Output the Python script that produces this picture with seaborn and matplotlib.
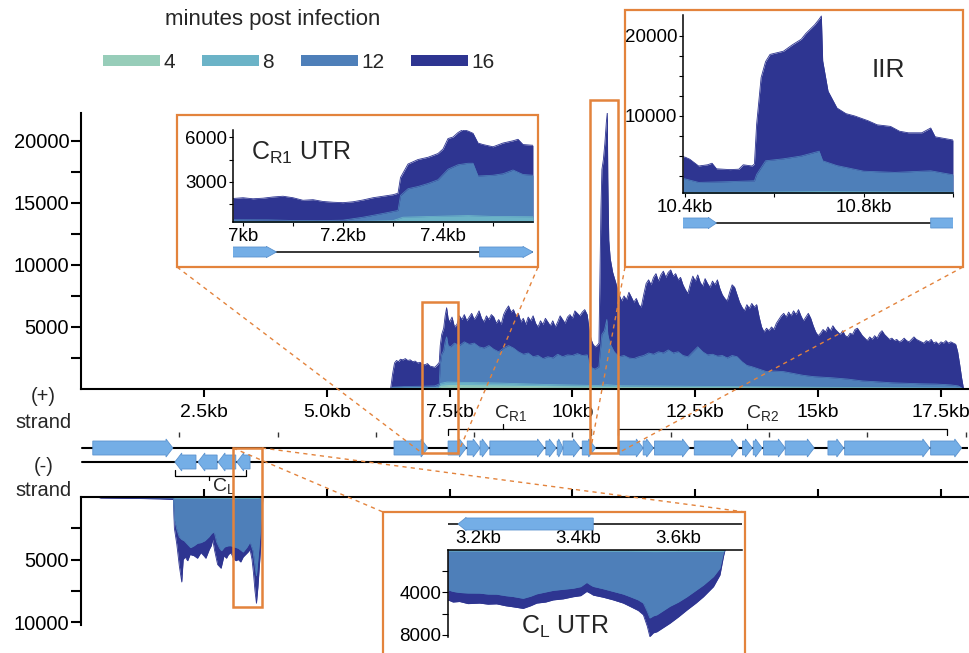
import numpy as np
import pandas as pd
import matplotlib
matplotlib.use('Agg')
import matplotlib.pyplot as plt
import seaborn as sns
from matplotlib.patches import Rectangle, Polygon, Patch
from matplotlib.lines import Line2D

# ---------------- data ----------------
TIMES = ['4', '8', '12', '16']

# (+) strand coverage, whole genome (kb, reads)
plus16_kb = [6.30, 6.34, 6.38, 6.42, 6.46, 6.50, 6.55, 6.60, 6.65, 6.70, 6.75, 6.80, 6.85, 6.90, 6.95,
             7.00, 7.05, 7.10, 7.15, 7.20, 7.25, 7.29, 7.31, 7.34, 7.38, 7.41, 7.44, 7.47, 7.50, 7.55,
             7.60, 7.65, 7.70, 7.75, 7.80, 7.85, 7.90, 7.95, 8.00, 8.05, 8.10, 8.15, 8.20, 8.25, 8.30,
             8.35, 8.40, 8.45, 8.50, 8.55, 8.60, 8.65, 8.70, 8.75, 8.80, 8.85, 8.90, 8.95, 9.00, 9.05,
             9.10, 9.15, 9.20, 9.25, 9.30, 9.35, 9.40, 9.45, 9.50, 9.55, 9.60, 9.65, 9.70, 9.75, 9.80,
             9.85, 9.90, 9.95, 10.00, 10.05, 10.10, 10.15, 10.20, 10.25, 10.30, 10.34, 10.38, 10.42, 10.46, 10.50,
             10.54, 10.56, 10.58, 10.60, 10.63, 10.66, 10.69, 10.71, 10.72, 10.74, 10.77, 10.82, 10.88, 10.95, 11.00,
             11.05, 11.10, 11.15, 11.20, 11.25, 11.30, 11.35, 11.40, 11.45, 11.50, 11.55, 11.60, 11.65, 11.70, 11.75,
             11.80, 11.85, 11.90, 11.95, 12.00, 12.05, 12.10, 12.15, 12.20, 12.25, 12.30, 12.35, 12.40, 12.45, 12.50,
             12.55, 12.60, 12.65, 12.70, 12.75, 12.80, 12.85, 12.90, 12.95, 13.00, 13.05, 13.10, 13.15, 13.20, 13.25,
             13.30, 13.35, 13.40, 13.45, 13.50, 13.55, 13.60, 13.65, 13.70, 13.75, 13.80, 13.85, 13.90, 13.95, 14.00,
             14.05, 14.10, 14.15, 14.20, 14.25, 14.30, 14.35, 14.40, 14.45, 14.50, 14.55, 14.60, 14.65, 14.70, 14.75,
             14.80, 14.85, 14.90, 14.95, 15.00, 15.05, 15.10, 15.15, 15.20, 15.25, 15.30, 15.35, 15.40, 15.45, 15.50,
             15.55, 15.60, 15.65, 15.70, 15.75, 15.80, 15.85, 15.90, 15.95, 16.00, 16.05, 16.10, 16.15, 16.20, 16.25,
             16.30, 16.35, 16.40, 16.45, 16.50, 16.55, 16.60, 16.65, 16.70, 16.75, 16.80, 16.85, 16.90, 16.95, 17.00,
             17.05, 17.10, 17.15, 17.20, 17.25, 17.30, 17.35, 17.40, 17.45, 17.50, 17.55, 17.60, 17.65, 17.70, 17.75,
             17.80, 17.84, 17.88, 17.92, 17.96]
plus16_cov = [0, 1200, 2100, 2300, 2200, 2400, 2350, 2450, 2300, 2350, 2200, 2250, 2100, 2150, 2000,
              1950, 2050, 1850, 1800, 1750, 1950, 2150, 3500, 4400, 4900, 5900, 6550, 5700, 5400, 5800,
              5000, 5200, 5900, 5600, 6000, 5500, 5800, 6100, 5600, 5900, 6300, 5700, 5400, 5900, 5600,
              6000, 5800, 5300, 5600, 5200, 6000, 6400, 6700, 6200, 6400, 5900, 6100, 5400, 5700, 5200,
              5800, 5500, 5900, 5300, 5000, 5500, 5200, 5700, 5400, 5100, 5500, 5000, 5400, 5900, 5600,
              5300, 5800, 6000, 5700, 6300, 6100, 5900, 6200, 6400, 6000, 4800, 4000, 3600, 3400, 3500,
              3700, 9000, 14500, 17700, 18500, 19800, 21500, 22300, 17000, 12000, 10500, 9400, 8600, 7600, 7100,
              7500, 7200, 7800, 7400, 7000, 7300, 6800, 6600, 7600, 8500, 8800, 8400, 9000, 9300, 8700,
              9200, 9500, 9000, 9400, 9600, 9100, 9300, 8800, 9000, 8400, 8000, 7700, 8500, 9100, 8700,
              9200, 8600, 8300, 8900, 8500, 8200, 8700, 8400, 8800, 8100, 7600, 7300, 7100, 7800, 8400,
              8200, 7600, 7000, 6600, 6300, 6800, 6500, 6900, 6600, 6800, 5800, 5000, 4600, 4900, 4700,
              5000, 4800, 5300, 5600, 5900, 6100, 5800, 6200, 5900, 6300, 6000, 6400, 5900, 5500, 5800,
              6100, 5700, 5100, 4600, 4300, 4500, 4800, 4600, 5000, 4700, 5100, 4800, 4600, 4400, 4700,
              4300, 4200, 4500, 4400, 4800, 4900, 4600, 4300, 4100, 3900, 4200, 4000, 4300, 4100, 4500,
              4700, 4400, 4200, 4000, 4100, 3900, 4000, 3800, 3900, 4100, 3900, 3800, 4000, 4200, 4000,
              3900, 3800, 3700, 3900, 3800, 4000, 3700, 3800, 3600, 3800, 3700, 3900, 3700, 3800, 3700,
              3600, 3000, 2000, 900, 0]

plus12_kb = [6.30, 6.34, 6.60, 6.90, 7.20, 7.29, 7.31, 7.34, 7.38, 7.41, 7.44, 7.47, 7.52, 7.60, 7.70,
             7.80, 7.90, 8.00, 8.10, 8.20, 8.30, 8.40, 8.50, 8.60, 8.70, 8.80, 8.90, 9.00, 9.10, 9.20,
             9.30, 9.40, 9.50, 9.60, 9.70, 9.80, 9.90, 10.00, 10.10, 10.20, 10.30, 10.34, 10.40, 10.46, 10.54,
             10.56, 10.60, 10.65, 10.70, 10.72, 10.76, 10.85, 10.95, 11.05, 11.15, 11.25, 11.35, 11.45, 11.55, 11.65,
             11.75, 11.85, 11.95, 12.05, 12.15, 12.25, 12.35, 12.45, 12.55, 12.65, 12.75, 12.85, 12.95, 13.05, 13.15,
             13.25, 13.35, 13.45, 13.55, 13.65, 13.80, 13.95, 14.10, 14.30, 14.50, 14.70, 14.90, 15.10, 15.30, 15.60,
             15.90, 16.20, 16.50, 16.80, 17.10, 17.40, 17.70, 17.85, 17.96]
plus12_cov = [0, 150, 200, 220, 250, 400, 2000, 2800, 3100, 3800, 4200, 3500, 3400, 3700, 3500,
              3800, 3600, 3700, 3400, 3300, 3500, 3200, 3000, 3300, 3500, 3300, 3000, 2800, 2900, 2600,
              2700, 2450, 2600, 2500, 2800, 2600, 2750, 2700, 2850, 2700, 2750, 2000, 1700, 1600, 1800,
              2800, 4400, 4700, 5600, 4400, 3700, 3000, 2600, 2700, 2500, 2450, 2600, 2700, 2900, 2800,
              3000, 2900, 3150, 2900, 3000, 2700, 2600, 3000, 3400, 3000, 2750, 2800, 2650, 2700, 2500,
              2700, 2600, 2200, 1900, 1800, 1600, 1400, 1450, 1400, 1250, 1100, 1000, 950, 900, 800,
              650, 580, 500, 460, 420, 400, 330, 250, 0]

plus8_kb = [6.30, 6.34, 7.29, 7.32, 7.45, 7.80, 8.50, 9.00, 9.50, 10.00, 10.50, 10.70, 11.00, 12.00, 13.00,
            14.00, 15.00, 16.00, 17.00, 17.90, 17.96]
plus8_cov = [0, 80, 100, 450, 560, 530, 480, 420, 360, 320, 280, 340, 260, 230, 200,
             170, 140, 120, 100, 80, 0]

plus4_kb = [6.30, 6.34, 7.29, 7.32, 7.50, 8.50, 9.50, 10.50, 11.50, 13.00, 15.00, 17.00, 17.96]
plus4_cov = [0, 40, 60, 220, 280, 240, 180, 130, 110, 90, 70, 50, 0]

# (-) strand coverage
minus16_kb = [0.33, 0.40, 0.80, 1.20, 1.60, 1.88, 1.90, 1.95, 2.00, 2.05, 2.08, 2.12, 2.17, 2.22, 2.30,
              2.37, 2.44, 2.50, 2.54, 2.58, 2.61, 2.65, 2.68, 2.72, 2.78, 2.85, 2.88, 2.91, 2.96, 3.00,
              3.05, 3.10, 3.15, 3.20, 3.25, 3.30, 3.35, 3.40, 3.44, 3.48, 3.51, 3.54, 3.57, 3.60, 3.63,
              3.66, 3.68, 3.70]
minus16_cov = [0, 80, 100, 120, 150, 200, 2500, 3800, 5500, 6800, 5000, 4800, 5100, 4600, 4700,
               4900, 4450, 4700, 4900, 4500, 4200, 3900, 3400, 4300, 5400, 5700, 5200, 4700, 4900, 4600,
               4450, 4900, 5100, 5000, 5200, 4800, 4600, 4400, 4200, 5000, 6100, 7500, 8500, 7200, 5500,
               3800, 1800, 0]
minus12_kb = [0.33, 0.40, 1.00, 1.88, 1.90, 1.95, 2.00, 2.05, 2.10, 2.17, 2.23, 2.30, 2.37, 2.44, 2.52,
              2.60, 2.66, 2.71, 2.76, 2.82, 2.86, 2.92, 3.00, 3.05, 3.12, 3.20, 3.30, 3.38, 3.44, 3.50,
              3.54, 3.57, 3.60, 3.64, 3.67, 3.70]
minus12_cov = [0, 40, 50, 80, 1800, 2600, 3200, 3400, 3500, 3800, 4050, 3900, 3700, 3650, 3500,
               3200, 2900, 2800, 3600, 4100, 4300, 4000, 3900, 3900, 4000, 4100, 4400, 4000, 3600, 4300,
               5500, 6300, 5000, 3300, 1800, 0]
minus8_kb = [1.88, 1.90, 3.00, 3.60, 3.70]
minus8_cov = [0, 80, 90, 110, 0]

# C_R1 UTR inset
cr1_16_kb = [6.98, 7.00, 7.02, 7.04, 7.06, 7.08, 7.10, 7.12, 7.14, 7.16, 7.18, 7.20, 7.22, 7.24, 7.26,
             7.28, 7.30, 7.31, 7.315, 7.33, 7.35, 7.37, 7.39, 7.40, 7.41, 7.42, 7.43, 7.44, 7.45, 7.46,
             7.47, 7.48, 7.50, 7.52, 7.54, 7.55, 7.56, 7.58]
cr1_16_cov = [1900, 1950, 1880, 1920, 2000, 2050, 1950, 1780, 1820, 1700, 1650, 1620, 1680, 1800, 1950,
              2050, 2150, 2250, 3300, 4200, 4500, 4650, 4900, 5200, 5900, 6000, 6300, 6500, 6400, 6250,
              5600, 5500, 5350, 5600, 5750, 5850, 5500, 5450]
cr1_12_kb = [6.98, 7.05, 7.10, 7.15, 7.20, 7.24, 7.28, 7.31, 7.315, 7.33, 7.35, 7.37, 7.39, 7.41, 7.43,
             7.45, 7.46, 7.47, 7.50, 7.52, 7.54, 7.56, 7.58]
cr1_12_cov = [480, 470, 430, 420, 450, 650, 900, 1100, 2100, 2550, 2700, 2900, 3150, 3850, 4150,
              4250, 4250, 3400, 3450, 3550, 3800, 3500, 3450]
cr1_8_kb = [6.98, 7.10, 7.20, 7.30, 7.32, 7.40, 7.45, 7.50, 7.58]
cr1_8_cov = [380, 360, 350, 420, 650, 720, 760, 700, 680]

# IIR inset
iir_16_kb = [10.395, 10.40, 10.41, 10.43, 10.45, 10.46, 10.47, 10.50, 10.52, 10.53, 10.55, 10.555, 10.56,
             10.565, 10.57, 10.58, 10.59, 10.62, 10.64, 10.66, 10.67, 10.69, 10.70, 10.705, 10.708, 10.72,
             10.74, 10.76, 10.78, 10.81, 10.83, 10.86, 10.88, 10.90, 10.93, 10.95, 10.96, 10.98, 11.00]
iir_16_cov = [4900, 4850, 4600, 3750, 3900, 4100, 3400, 3300, 3350, 3900, 3750, 4000, 9000,
              11900, 14800, 16800, 17700, 18100, 18900, 19600, 20300, 21400, 22100, 22500, 16900, 13100,
              11000, 10300, 10000, 9400, 8900, 8700, 8100, 7900, 7900, 8500, 7400, 7200, 7000]
iir_12_kb = [10.395, 10.43, 10.50, 10.555, 10.56, 10.58, 10.62, 10.66, 10.70, 10.708, 10.74, 10.80, 10.87,
             10.95, 11.00]
iir_12_cov = [2200, 1700, 1800, 1900, 2700, 4400, 4650, 5000, 5600, 4400, 3800, 3100, 2950, 3150, 2650]
iir_8_kb = [10.395, 10.56, 10.70, 11.00]
iir_8_cov = [450, 480, 550, 470]

# C_L UTR inset (reads on the (-) strand)
cl_16_kb = [3.140, 3.150, 3.163, 3.180, 3.203, 3.220, 3.237, 3.255, 3.270, 3.290, 3.305, 3.317, 3.335, 3.350,
            3.370, 3.390, 3.405, 3.417, 3.425, 3.430, 3.450, 3.470, 3.490, 3.503, 3.520, 3.530, 3.538, 3.543,
            3.550, 3.557, 3.570, 3.583, 3.600, 3.617, 3.635, 3.650, 3.670, 3.683, 3.690, 3.693]
cl_16_cov = [4700, 4900, 4850, 5050, 5000, 5100, 5070, 5250, 5350, 5500, 5250, 5000, 4900, 4700,
             4600, 4400, 4300, 3900, 4100, 4250, 4450, 4700, 5000, 5300, 5700, 6100, 7200, 8150,
             7800, 7700, 7300, 6900, 6300, 5650, 5000, 4400, 3450, 2350, 600, 0]
cl_12_kb = cl_16_kb
cl_12_cov = [3750, 3900, 4000, 4050, 4060, 4150, 4160, 4300, 4380, 4550, 4350, 4130, 3950, 3800,
             3700, 3600, 3450, 3050, 3300, 3430, 3650, 3900, 4150, 4380, 4700, 5000, 5800, 6400,
             6200, 6100, 5700, 5300, 4900, 4400, 3800, 3300, 2500, 1700, 300, 0]
cl_8_kb = [3.140, 3.500, 3.550, 3.690, 3.693]
cl_8_cov = [80, 100, 150, 120, 0]

# genes (kb)
plus_gene_start = [0.24, 6.37, 7.47, 7.86, 8.12, 8.32, 9.46, 9.69, 9.81, 10.20, 10.96, 11.44, 11.67,
                   12.48, 13.46, 13.68, 13.89, 14.33, 15.20, 15.54, 17.29]
plus_gene_end = [1.87, 7.06, 7.84, 8.12, 8.30, 9.43, 9.67, 9.81, 10.16, 10.47, 11.44, 11.65, 12.38,
                 13.38, 13.66, 13.86, 14.33, 14.92, 15.52, 17.27, 17.92]
minus_gene_start = [1.91, 2.38, 2.79, 3.17]
minus_gene_end = [2.34, 2.77, 3.15, 3.44]
cr1_gene_start = [6.90, 7.473]
cr1_gene_end = [7.067, 7.58]
iir_gene_start = [10.30, 10.95]
iir_gene_end = [10.47, 11.10]
cl_gene_start = [3.16]
cl_gene_end = [3.43]

# operon brackets: (start, end, tick, label)
op_names = ['C$_{\\mathrm{R1}}$', 'C$_{\\mathrm{R2}}$', 'C$_{\\mathrm{L}}$']
op_start = [7.47, 10.93, 1.91]
op_end = [10.38, 17.63, 3.35]
op_mid = [8.59, 13.56, 2.61]
op_label_x = [8.41, 13.54, 2.66]

main_xticks = [2.5, 5.0, 7.5, 10.0, 12.5, 15.0, 17.5]
main_xticklabels = ['2.5kb', '5.0kb', '7.5kb', '10kb', '12.5kb', '15kb', '17.5kb']
track_ticks = [2, 4, 6, 8, 10, 12, 14, 16, 18]

# ---------------- style ----------------
sns.set_theme(style='ticks')
plt.rcParams['font.family'] = ['Liberation Sans', 'DejaVu Sans']
plt.rcParams['mathtext.fontset'] = 'custom'
plt.rcParams['mathtext.rm'] = 'Liberation Sans'
plt.rcParams['mathtext.it'] = 'Liberation Sans:italic'
plt.rcParams['mathtext.default'] = 'rm'

PAL = {'4': '#97CDB9', '8': '#6BB3C7', '12': '#4E7FB9', '16': '#2E3591'}
GENE_FILL = '#74AEE6'
GENE_EDGE = '#5C93CF'
ORANGE = '#E3833C'

W, H = 970, 653
fig = plt.figure(figsize=(W / 100, H / 100), dpi=100)


def px_axes(x0, y0, x1, y1):
    return fig.add_axes([x0 / W, 1 - y1 / H, (x1 - x0) / W, (y1 - y0) / H])


def fx(x):
    return x / W


def fy(y):
    return 1 - y / H


def draw_coverage(ax, layers):
    rows = []
    for lab, kb, cov in layers:
        ax.fill_between(kb, 0, cov, color=PAL[lab], linewidth=0, zorder=1)
        rows += [{'kb': k, 'cov': c, 'min': lab} for k, c in zip(kb, cov)]
    df = pd.DataFrame(rows)
    sns.lineplot(data=df, x='kb', y='cov', hue='min', palette=PAL, estimator=None, sort=False,
                 linewidth=0.6, legend=False, ax=ax, zorder=2)
    ax.set_xlabel('')
    ax.set_ylabel('')


def draw_gene(ax, start, end, yc, h, hh, head, direction):
    head = min(head, 0.75 * (end - start))
    if direction > 0:
        b = end - head
        pts = [(start, yc - h / 2), (b, yc - h / 2), (b, yc - hh / 2), (end, yc),
               (b, yc + hh / 2), (b, yc + h / 2), (start, yc + h / 2)]
    else:
        b = start + head
        pts = [(end, yc - h / 2), (b, yc - h / 2), (b, yc - hh / 2), (start, yc),
               (b, yc + hh / 2), (b, yc + h / 2), (end, yc + h / 2)]
    ax.add_patch(Polygon(pts, closed=True, facecolor=GENE_FILL, edgecolor=GENE_EDGE, linewidth=0.6, zorder=3))


def style_spines(ax, show, lw=1.5):
    for s in ['left', 'right', 'top', 'bottom']:
        ax.spines[s].set_visible(s in show)
        ax.spines[s].set_color('black')
        ax.spines[s].set_linewidth(lw)


XMAX = 18.05

# ---------------- main (+) axis ----------------
ax_p = px_axes(81, 113, 968, 389)
draw_coverage(ax_p, [('16', plus16_kb, plus16_cov), ('12', plus12_kb, plus12_cov),
                     ('8', plus8_kb, plus8_cov), ('4', plus4_kb, plus4_cov)])
ax_p.set_xlim(0, XMAX)
ax_p.set_ylim(0, 22250)
ax_p.patch.set_alpha(0)
style_spines(ax_p, ['left', 'bottom'])
ax_p.set_xticks(main_xticks)
ax_p.set_xticklabels(main_xticklabels)
ax_p.set_yticks([5000, 10000, 15000, 20000])
ax_p.set_yticklabels(['5000', '10000', '15000', '20000'])
ax_p.set_yticks([2500, 7500, 12500, 17500], minor=True)
ax_p.tick_params(axis='x', which='major', direction='out', length=6, width=1.5, pad=5, labelsize=14, colors='black')
ax_p.tick_params(axis='y', which='both', direction='out', length=7, width=1.5, pad=1.5, labelsize=14.5, colors='black')

# ---------------- gene track ----------------
ax_g = px_axes(81, 400, 968, 500)
ax_g.set_xlim(0, XMAX)
ax_g.set_ylim(500, 400)
ax_g.axis('off')
ax_g.plot([0.03, XMAX], [448, 448], color='black', lw=1.5, zorder=1)
ax_g.plot([0.03, XMAX], [462, 462], color='black', lw=1.5, zorder=1)
ax_g.vlines(track_ticks, 432, 437, color='#333333', lw=1)
for s, e in zip(plus_gene_start, plus_gene_end):
    draw_gene(ax_g, s, e, 448, 14, 18, 0.14, +1)
for s, e in zip(minus_gene_start, minus_gene_end):
    draw_gene(ax_g, s, e, 462, 14, 18, 0.14, -1)
for i, (nm, s, e, m, lx) in enumerate(zip(op_names, op_start, op_end, op_mid, op_label_x)):
    if i < 2:
        ax_g.plot([s, s, e, e], [435, 429, 429, 435], color='black', lw=0.9)
        ax_g.plot([m, m], [429, 424], color='black', lw=0.9)
        ax_g.text(lx, 413, nm, fontsize=14, ha='left', va='center')
    else:
        ax_g.plot([s, s, e, e], [470, 476, 476, 470], color='black', lw=0.9)
        ax_g.plot([m, m], [476, 480], color='black', lw=0.9)
        ax_g.text(lx, 486, nm, fontsize=14, ha='left', va='center')

# ---------------- main (-) axis ----------------
ax_m = px_axes(81, 497, 968, 625)
draw_coverage(ax_m, [('16', minus16_kb, minus16_cov), ('12', minus12_kb, minus12_cov),
                     ('8', minus8_kb, minus8_cov)])
ax_m.set_xlim(0, XMAX)
ax_m.set_ylim(10240, 0)
ax_m.patch.set_alpha(0)
style_spines(ax_m, ['left', 'top'])
ax_m.xaxis.tick_top()
ax_m.set_xticks(main_xticks)
ax_m.set_xticklabels([])
ax_m.set_yticks([5000, 10000])
ax_m.set_yticklabels(['5000', '10000'])
ax_m.set_yticks([2500, 7500], minor=True)
ax_m.tick_params(axis='x', which='major', direction='out', length=6, width=1.5, colors='black')
ax_m.tick_params(axis='y', which='both', direction='out', length=7, width=1.5, pad=1.5, labelsize=14.5, colors='black')

# ---------------- inset boxes (white backgrounds) ----------------
boxes = [(177, 115, 538, 267), (625, 10, 963, 267), (383, 512, 745, 665)]
for (x0, y0, x1, y1) in boxes:
    fig.add_artist(Rectangle((fx(x0), fy(y1)), fx(x1 - x0), (y1 - y0) / H, transform=fig.transFigure,
                             facecolor='white', edgecolor=ORANGE, lw=1.6, zorder=1))

# ---------------- C_R1 inset ----------------
ax_c = px_axes(233, 130, 533, 222)
ax_c.set_zorder(3)
draw_coverage(ax_c, [('16', cr1_16_kb, cr1_16_cov), ('12', cr1_12_kb, cr1_12_cov), ('8', cr1_8_kb, cr1_8_cov)])
ax_c.set_xlim(6.98, 7.58)
ax_c.set_ylim(330, 6470)
style_spines(ax_c, ['left', 'bottom'], lw=1.1)
ax_c.set_yticks([3000, 6000])
ax_c.set_yticklabels(['3000', '6000'])
ax_c.set_yticks([1500, 4500], minor=True)
ax_c.set_xticks([7.0, 7.2, 7.4])
ax_c.set_xticklabels(['7kb', '7.2kb', '7.4kb'])
ax_c.set_xticks([7.1, 7.3, 7.5], minor=True)
ax_c.tick_params(axis='both', which='both', direction='out', length=3, width=0.8, pad=1, labelsize=13.5, colors='black')
ax_c.text(0.06, 0.75, 'C$_{\\mathrm{R1}}$ UTR', transform=ax_c.transAxes, fontsize=18, ha='left', va='center')

ax_cg = px_axes(233, 243, 533, 261)
ax_cg.set_zorder(3)
ax_cg.set_xlim(6.98, 7.58)
ax_cg.set_ylim(261, 243)
ax_cg.axis('off')
ax_cg.plot([6.98, 7.58], [252, 252], color='black', lw=1.1, zorder=1)
for s, e in zip(cr1_gene_start, cr1_gene_end):
    draw_gene(ax_cg, s, e, 252, 10, 11, 0.02, +1)

# ---------------- IIR inset ----------------
ax_i = px_axes(683, 15, 953, 193)
ax_i.set_zorder(3)
draw_coverage(ax_i, [('16', iir_16_kb, iir_16_cov), ('12', iir_12_kb, iir_12_cov), ('8', iir_8_kb, iir_8_cov)])
ax_i.set_xlim(10.395, 11.0)
ax_i.set_ylim(375, 22625)
style_spines(ax_i, ['left', 'bottom'], lw=1.1)
ax_i.set_yticks([10000, 20000])
ax_i.set_yticklabels(['10000', '20000'])
ax_i.set_yticks([2500, 5000, 7500, 12500, 15000, 17500], minor=True)
ax_i.set_xticks([10.4, 10.8])
ax_i.set_xticklabels(['10.4kb', '10.8kb'])
ax_i.set_xticks([10.6, 11.0], minor=True)
ax_i.tick_params(axis='both', which='both', direction='out', length=3, width=0.8, pad=1, labelsize=13.5, colors='black')
ax_i.text(0.70, 0.69, 'IIR', transform=ax_i.transAxes, fontsize=19, ha='left', va='center')

ax_ig = px_axes(683, 215, 953, 231)
ax_ig.set_zorder(3)
ax_ig.set_xlim(10.395, 11.0)
ax_ig.set_ylim(231, 215)
ax_ig.axis('off')
ax_ig.plot([10.395, 11.0], [223, 223], color='black', lw=1.1, zorder=1)
for s, e in zip(iir_gene_start, iir_gene_end):
    draw_gene(ax_ig, s, e, 223, 10, 11, 0.018, +1)

# ---------------- C_L inset ----------------
ax_l = px_axes(448, 550, 742, 637)
ax_l.set_zorder(3)
draw_coverage(ax_l, [('16', cl_16_kb, cl_16_cov), ('12', cl_12_kb, cl_12_cov), ('8', cl_8_kb, cl_8_cov)])
ax_l.set_xlim(3.14, 3.727)
ax_l.set_ylim(8190, 0)
style_spines(ax_l, ['left', 'top'], lw=1.1)
ax_l.xaxis.tick_top()
ax_l.set_xticks([3.2, 3.4, 3.6])
ax_l.set_xticklabels(['3.2kb', '3.4kb', '3.6kb'])
ax_l.set_xticks([3.3, 3.5], minor=True)
ax_l.set_yticks([4000, 8000])
ax_l.set_yticklabels(['4000', '8000'])
ax_l.set_yticks([2000, 6000], minor=True)
ax_l.tick_params(axis='x', which='both', direction='in', length=3, width=0.8, pad=2, labelsize=13.5, colors='black')
ax_l.tick_params(axis='y', which='both', direction='out', length=4, width=0.8, pad=1, labelsize=13.5, colors='black')
ax_l.text(0.25, 0.12, 'C$_{\\mathrm{L}}$ UTR', transform=ax_l.transAxes, fontsize=18, ha='left', va='center')

ax_lg = px_axes(448, 515, 742, 533)
ax_lg.set_zorder(3)
ax_lg.set_xlim(3.14, 3.727)
ax_lg.set_ylim(533, 515)
ax_lg.axis('off')
ax_lg.plot([3.14, 3.727], [524, 524], color='black', lw=1.1, zorder=1)
for s, e in zip(cl_gene_start, cl_gene_end):
    draw_gene(ax_lg, s, e, 524, 12, 13, 0.016, -1)

# ---------------- highlight rectangles and connectors ----------------
highlights = [(422, 302, 458, 453), (590, 100, 618, 453), (233, 448, 262, 607)]
for (x0, y0, x1, y1) in highlights:
    fig.add_artist(Rectangle((fx(x0), fy(y1)), fx(x1 - x0), (y1 - y0) / H, transform=fig.transFigure,
                             facecolor='none', edgecolor=ORANGE, lw=1.8, zorder=5))
connectors = [((177, 267), (422, 453)), ((538, 267), (458, 453)),
              ((625, 267), (590, 453)), ((963, 267), (618, 453)),
              ((233, 448), (383, 512)), ((262, 448), (745, 512))]
for (a, b) in connectors:
    fig.add_artist(Line2D([fx(a[0]), fx(b[0])], [fy(a[1]), fy(b[1])], transform=fig.transFigure,
                          color=ORANGE, lw=1.0, ls=(0, (3, 3)), zorder=4))

# ---------------- strand labels ----------------
for txt, x, y in [('(+)', 43, 397), ('strand', 43, 422), ('(-)', 44, 467), ('strand', 43, 491)]:
    fig.text(fx(x), fy(y), txt, fontsize=14.5, ha='center', va='center')

# ---------------- legend ----------------
fig.text(fx(273), fy(20), 'minutes post infection', fontsize=16, ha='center', va='center')
handles = [Patch(facecolor=PAL[t], edgecolor='none') for t in TIMES]
fig.legend(handles, TIMES, ncol=4, loc='center left', bbox_to_anchor=(fx(103), fy(62)), frameon=False,
           fontsize=15, handlelength=2.74, handleheight=0.43, handletextpad=0.15, columnspacing=1.3,
           borderpad=0, borderaxespad=0)

fig.savefig('out.png', dpi=100)
